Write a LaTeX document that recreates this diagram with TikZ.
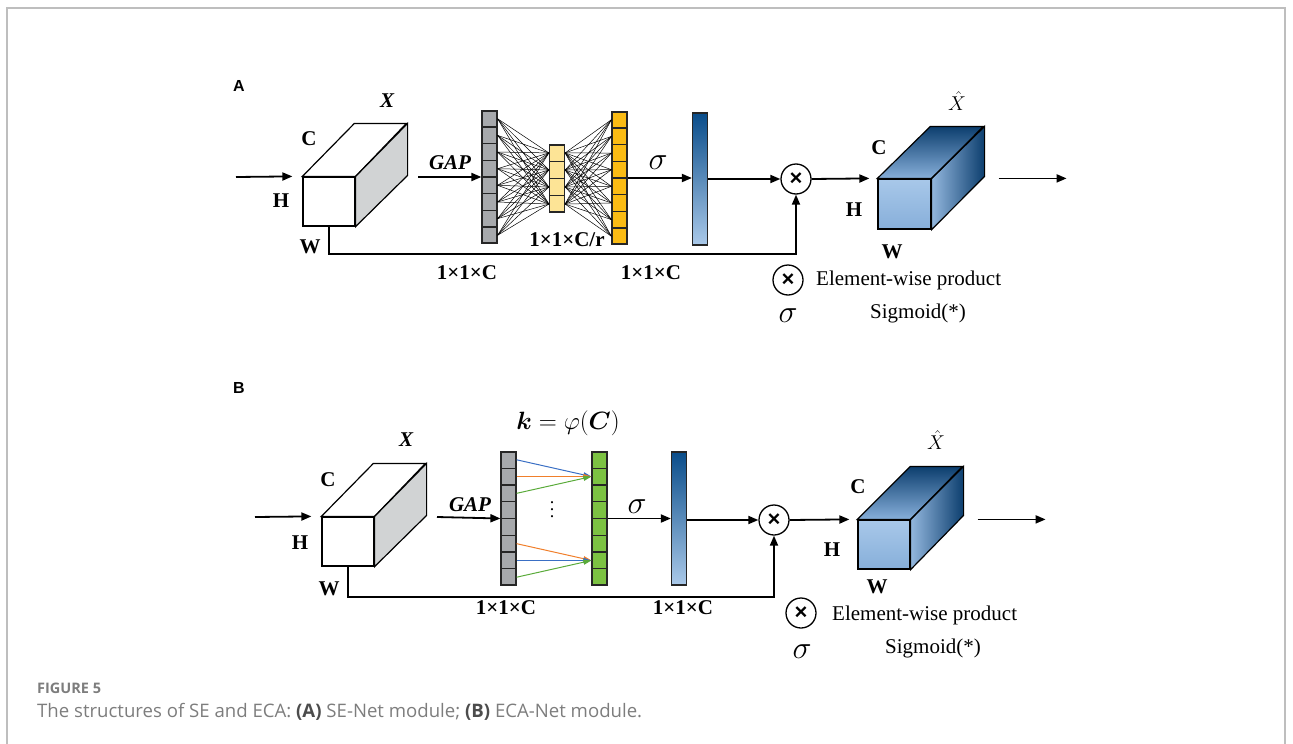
\RequirePackage{fix-cm}
\documentclass[tikz,border=0pt]{standalone}
\usepackage{amsmath,bm}
\usepackage{fontspec}
\setmainfont{Liberation Serif}
\setsansfont{Liberation Sans}
\newfontfamily\capfont{Open Sans}
\usetikzlibrary{arrows.meta,calc}
\definecolor{cellgray}{RGB}{167,169,172}
\definecolor{cellyel}{RGB}{253,228,150}
\definecolor{cellorg}{RGB}{250,187,20}
\definecolor{cellgrn}{RGB}{124,194,66}
\definecolor{bardark}{RGB}{10,77,138}
\definecolor{barlight}{RGB}{170,201,233}
\definecolor{sidegray}{RGB}{209,211,212}
\definecolor{cubefront}{RGB}{168,200,233}
\definecolor{cubefront2}{RGB}{135,175,218}
\definecolor{cubedark}{RGB}{12,62,110}
\definecolor{linkblue}{RGB}{58,111,196}
\definecolor{linkorg}{RGB}{240,127,43}
\definecolor{linkgrn}{RGB}{90,171,58}
\definecolor{framegray}{RGB}{190,190,190}
\definecolor{capgray}{RGB}{125,125,125}

% horizontal cell dividers in a vector column
\newcommand{\cells}[2]{%
  \foreach \i in {1,...,#2}
    \draw[black!85,line width=1.2] ($(#1.north west)!{\i/#2}!(#1.south west)$) -- ($(#1.north east)!{\i/#2}!(#1.south east)$);}

\tikzset{
  lbl/.style={font=\fontsize{21}{22}\selectfont\bfseries,inner sep=0},
  vec/.style={draw=black!85,line width=1.2,minimum width=15pt,inner sep=0},
  arr/.style={-{Triangle[length=10pt,width=8pt]},line width=1.8},
  link/.style={-{Triangle[length=8pt,width=5pt]},line width=1},
  prod/.style={circle,draw,line width=1.3,minimum size=30pt,inner sep=0,font=\sffamily\bfseries\fontsize{22}{22}\selectfont},
  sig/.style={font=\fontsize{32}{32}\selectfont,inner sep=0},
  tag/.style={font=\sffamily\bfseries\fontsize{16}{16}\selectfont,anchor=base west,inner sep=0},
}

\begin{document}
\begin{tikzpicture}[x=1pt,y=-1pt]
\useasboundingbox (0,0) rectangle (1293,744);
\draw[framegray,line width=1.5] (7,744) -- (7,8) -- (1285,8) -- (1285,744);

% ---------- A: SE-Net ----------
\node[tag] (tagA) at (233,91) {A};
\node[draw,line width=1.2,fill=white,minimum width=52pt,minimum height=49pt] (cubeA) at (329,201.5) {};
\draw[line width=1.2,fill=white] (cubeA.north west) -- ++(52,-53) -- ++(52,0) -- (cubeA.north east) -- cycle;
\draw[line width=1.2,fill=sidegray] (cubeA.north east) -- ++(52,-53) -- ++(0,52) -- (cubeA.south east) -- cycle;
\node[lbl,font=\fontsize{21}{22}\selectfont\bfseries\itshape] (xA) at (387,101) {X};
\node[lbl] (cA) at (309,139) {C};
\node[lbl] (hA) at (281,201) {H};
\node[lbl] (wA) at (310,247) {W};
\coordinate (inA) at (236,177);
\draw[arr] (inA) -- ([xshift=-10pt]cubeA.north west);

\node[vec,fill=cellgray,minimum height=132pt] (gapA) at (489.5,177) {};
\node[vec,fill=cellyel,minimum height=67pt] (redA) at (557,178.5) {};
\node[vec,fill=cellorg,minimum height=132pt] (excA) at (619.5,178) {};
\cells{gapA}{8}
\cells{redA}{4}
\cells{excA}{8}
\foreach \i in {1,...,8}
  \foreach \j in {1,...,4} {
    \draw[line width=0.5] ($(gapA.north east)!{(\i-0.5)/8}!(gapA.south east)$) -- ($(redA.north west)!{(\j-0.5)/4}!(redA.south west)$);
    \draw[line width=0.5] ($(excA.north west)!{(\i-0.5)/8}!(excA.south west)$) -- ($(redA.north east)!{(\j-0.5)/4}!(redA.south east)$);
  }
\coordinate (gapinA) at (418,177);
\draw[arr] (gapinA) -- (gapA.west);
\node[lbl,font=\fontsize{21}{22}\selectfont\bfseries\itshape] (gapltA) at (450,163) {GAP};
\node[lbl] (dimA1) at (467,273) {1×1×C};
\node[lbl] (dimA2) at (567,240) {1×1×C/r};
\node[lbl] (dimA3) at (651,273) {1×1×C};

\node[vec,minimum height=132pt,top color=bardark,bottom color=barlight] (sigA) at (700,179) {};
\draw[arr] (excA.east) -- (sigA.west |- excA.east);
\node[sig] (sgA) at (658,163) {$\sigma$};
\node[prod] (prodA) at (796,179) {×};
\draw[arr] (sigA.east |- prodA.west) -- (prodA.west);
\draw[arr] (cubeA.south) -- ++(0,27) -| (prodA.south);

\node[draw,line width=1.2,minimum width=53pt,minimum height=50pt,top color=cubefront,bottom color=cubefront2] (outA) at (904.5,204) {};
\shade[top color=cubedark,bottom color=cubefront2] (outA.north west) -- ++(53,-52) -- ++(53,0) -- (outA.north east) -- cycle;
\shade[left color=cubefront2!90!white,right color=cubedark] (outA.north east) -- ++(53,-52) -- ++(0,50) -- (outA.south east) -- cycle;
\draw[line width=1.2] (outA.north west) -- ++(53,-52) -- ++(53,0) -- (outA.north east) -- cycle;
\draw[line width=1.2] (outA.north east) -- ++(53,-52) -- ++(0,50) -- (outA.south east) -- cycle;
\draw[arr] (prodA.east) -- ([xshift=-8pt]outA.north west);
\coordinate (outendA) at ([xshift=135pt]outA.north east);
\draw[arr] ([xshift=67pt]outA.north east) -- (outendA);
\node[inner sep=0,font=\fontsize{20}{20}\selectfont] (xhA) at (957,101) {$\hat{X}$};
\node[lbl] (cA2) at (879,148) {C};
\node[lbl] (hA2) at (854,210) {H};
\node[lbl] (wA2) at (892,252) {W};

\node[prod] (legpA) at (788,280) {×};
\node[anchor=west,inner sep=0,font=\fontsize{21}{22}\selectfont] (legtA) at (816,280) {Element-wise product};
\node[sig] (legsA) at (788,316) {$\sigma$};
\node[inner sep=0,font=\fontsize{21}{22}\selectfont] (legmA) at (918,313) {Sigmoid(*)};

% ---------- B: ECA-Net ----------
\node[tag] (tagB) at (233,393) {B};
\node[draw,line width=1.2,fill=white,minimum width=52pt,minimum height=49pt] (cubeB) at (348,541.5) {};
\draw[line width=1.2,fill=white] (cubeB.north west) -- ++(52,-53) -- ++(52,0) -- (cubeB.north east) -- cycle;
\draw[line width=1.2,fill=sidegray] (cubeB.north east) -- ++(52,-53) -- ++(0,52) -- (cubeB.south east) -- cycle;
\node[lbl,font=\fontsize{21}{22}\selectfont\bfseries\itshape] (xB) at (406,440) {X};
\node[lbl] (cB) at (328,480) {C};
\node[lbl] (hB) at (300,543) {H};
\node[lbl] (wB) at (329,589) {W};
\coordinate (inB) at (255,517);
\draw[arr] (inB) -- ([xshift=-10pt]cubeB.north west);

\node[vec,fill=cellgray,minimum height=133pt] (gapB) at (508.5,518.5) {};
\node[vec,fill=cellgrn,minimum height=133pt] (grnB) at (599.5,518.5) {};
\cells{gapB}{8}
\cells{grnB}{8}
\foreach \i/\j/\c in {1/2/linkblue,2/2/linkorg,3/2/linkgrn,6/7/linkorg,7/7/linkblue,8/7/linkgrn}
  \draw[link,\c] ($(gapB.north east)!{(\i-0.5)/8}!(gapB.south east)$) -- ($(grnB.north west)!{(\j-0.5)/8}!(grnB.south west)$);
\node[inner sep=0,align=center,font=\fontsize{18}{7}\selectfont] (dotsB) at (552,510) {.\\.\\.};
\node[inner sep=0,font=\fontsize{25}{25}\selectfont] (kB) at (568,423) {$\bm{k}=\varphi(\bm{C})$};
\coordinate (gapinB) at (437,517);
\draw[arr] (gapinB) -- (gapB.west);
\node[lbl,font=\fontsize{21}{22}\selectfont\bfseries\itshape] (gapltB) at (470,505) {GAP};
\node[lbl] (dimB1) at (506,608) {1×1×C};
\node[lbl] (dimB2) at (683,608) {1×1×C};

\node[vec,minimum height=133pt,top color=bardark,bottom color=barlight] (sigB) at (679,518.5) {};
\draw[arr] (grnB.east) -- (sigB.west |- grnB.east);
\node[sig] (sgB) at (637,507) {$\sigma$};
\node[prod] (prodB) at (774,520) {×};
\draw[arr] (sigB.east |- prodB.west) -- (prodB.west);
\draw[arr] (cubeB.south) -- ++(0,30) -| (prodB.south);

\node[draw,line width=1.2,minimum width=52pt,minimum height=49pt,top color=cubefront,bottom color=cubefront2] (outB) at (884,544.5) {};
\shade[top color=cubedark,bottom color=cubefront2] (outB.north west) -- ++(53,-53) -- ++(52,0) -- (outB.north east) -- cycle;
\shade[left color=cubefront2!90!white,right color=cubedark] (outB.north east) -- ++(53,-53) -- ++(0,49) -- (outB.south east) -- cycle;
\draw[line width=1.2] (outB.north west) -- ++(53,-53) -- ++(52,0) -- (outB.north east) -- cycle;
\draw[line width=1.2] (outB.north east) -- ++(53,-53) -- ++(0,49) -- (outB.south east) -- cycle;
\draw[arr] (prodB.east) -- ([xshift=-8pt]outB.north west);
\coordinate (outendB) at ([xshift=135pt]outB.north east);
\draw[arr] ([xshift=67pt]outB.north east) -- (outendB);
\node[inner sep=0,font=\fontsize{20}{20}\selectfont] (xhB) at (936,440) {$\hat{X}$};
\node[lbl] (cB2) at (858,487) {C};
\node[lbl] (hB2) at (832,550) {H};
\node[lbl] (wB2) at (877,587) {W};

\node[prod] (legpB) at (801,613) {×};
\node[anchor=west,inner sep=0,font=\fontsize{21}{22}\selectfont] (legtB) at (832,615) {Element-wise product};
\node[sig] (legsB) at (802,652) {$\sigma$};
\node[inner sep=0,font=\fontsize{21}{22}\selectfont] (legmB) at (933,648) {Sigmoid(*)};

% ---------- caption ----------
\node[anchor=base west,inner sep=0,text=capgray,font=\capfont\bfseries\fontsize{14.5}{14.5}\selectfont] (figno) at (37,693) {FIGURE 5};
\node[anchor=base west,inner sep=0,text=capgray,font=\capfont\fontsize{18.6}{18.6}\selectfont] (figcap) at (37,717)
  {The structures of SE and ECA: {\color{black!70}\bfseries(A)} SE-Net module; {\color{black!70}\bfseries(B)} ECA-Net module.};
\end{tikzpicture}
\end{document}
